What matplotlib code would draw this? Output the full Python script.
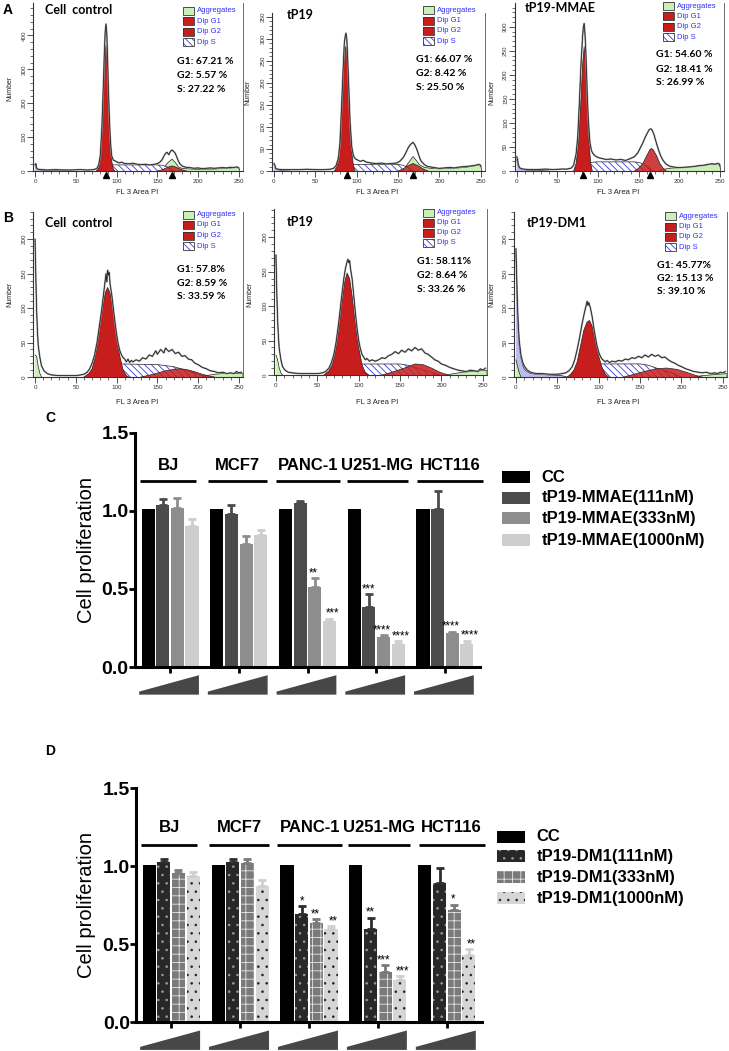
import numpy as np
import matplotlib
matplotlib.use('Agg')
import matplotlib.pyplot as plt
from matplotlib.patches import Rectangle, Polygon
from matplotlib.ticker import MultipleLocator
import matplotlib.transforms as mtransforms

plt.rcParams['font.family'] = ['Liberation Sans', 'DejaVu Sans']
plt.rcParams['hatch.linewidth'] = 0.6

# ===================== DATA: flow cytometry histograms (x = FL3 area PI, y = count) =====================
A1_ENV = [(0,18),(1,22),(2,8),(4,5),(8,4),(15,3),(25,4),(35,3),(45,3),(55,4),(65,3),(72,4),(76,8),(78,18),(80,45),(82,130),(84,270),(85,350),(86,410),(87,434),(88,405),(89,330),(90,240),(91,170),(92,110),(93,70),(94,45),(96,32),(98,30),(100,27),(103,24),(106,26),(110,22),(115,21),(120,23),(125,20),(130,19),(135,20),(140,18),(145,19),(150,22),(153,26),(156,34),(158,44),(160,52),(162,55),(164,48),(166,58),(168,62),(170,58),(172,52),(174,40),(176,28),(178,20),(181,14),(185,11),(190,10),(195,8),(200,9),(205,7),(210,8),(215,9),(220,8),(225,9),(230,10),(235,9),(240,11),(244,10),(247,12),(249,11),(250,8)]
A1_G1 = [(75,0),(78,8),(80,35),(82,110),(84,240),(86,355),(87,372),(88,350),(90,220),(92,100),(94,30),(96,5),(98,0)]
A1_G2 = [(150,0),(155,3),(160,8),(165,13),(168,15),(171,13),(176,8),(181,3),(186,0)]
A1_S = [(84,0),(88,10),(92,17),(96,18),(150,18),(156,17),(162,12),(166,6),(170,0)]
A1_AGG = [(150,0),(158,10),(163,25),(168,35),(172,25),(176,12),(180,8),(190,6),(200,5),(220,6),(235,8),(245,10),(250,10),(251,0)]
A1_DEB = [(0,15),(2,8),(5,4),(10,2),(20,1),(40,0)]
A1_MARKS = [87, 168]
A1_STATS = ['G1: 67.21 %', 'G2: 5.57 %', 'S: 27.22 %']

A2_ENV = [(0,17),(1,14),(2,6),(5,4),(10,3),(20,3),(30,3),(40,4),(50,3),(60,3),(68,4),(72,6),(75,12),(78,30),(80,70),(82,160),(84,250),(85,290),(86,305),(87,313),(88,300),(89,260),(90,210),(91,160),(92,110),(94,55),(96,35),(98,28),(100,26),(104,22),(108,24),(112,20),(118,18),(124,17),(130,18),(136,16),(142,17),(148,18),(152,22),(156,30),(159,40),(162,52),(164,58),(166,62),(168,65),(170,60),(172,52),(174,42),(176,30),(178,22),(182,14),(186,10),(190,9),(196,7),(200,6),(206,7),(212,8),(218,7),(224,9),(230,10),(236,11),(240,12),(244,13),(247,15),(249,14),(250,10)]
A2_G1 = [(73,0),(76,10),(79,50),(82,150),(84,230),(86,275),(87,283),(88,270),(90,200),(92,110),(94,45),(96,12),(98,0)]
A2_G2 = [(150,0),(156,5),(162,12),(168,17),(174,12),(180,5),(186,0)]
A2_S = [(86,0),(90,10),(94,15),(100,15),(150,15),(156,13),(162,8),(168,0)]
A2_AGG = [(152,0),(160,12),(165,25),(168,33),(172,24),(176,14),(182,8),(190,6),(200,5),(215,6),(230,8),(240,11),(247,14),(250,13),(251,0)]
A2_DEB = [(0,14),(2,6),(5,3),(10,1),(20,0)]
A2_MARKS = [88, 168]
A2_STATS = ['G1: 66.07 %', 'G2: 8.42 %', 'S: 25.50 %']

A3_ENV = [(0,30),(1,25),(2,12),(4,6),(8,4),(15,3),(25,3),(35,4),(45,3),(55,4),(62,4),(67,6),(70,12),(73,35),(75,70),(77,140),(79,220),(81,280),(82,300),(83,307),(84,285),(85,250),(86,200),(87,150),(88,110),(90,60),(92,42),(94,36),(96,32),(100,28),(105,26),(110,24),(116,25),(122,23),(128,24),(134,22),(140,26),(145,30),(149,38),(152,48),(155,58),(158,70),(161,80),(163,86),(165,88),(167,84),(169,75),(171,63),(174,46),(177,32),(180,22),(184,14),(188,10),(194,8),(200,7),(208,8),(216,9),(224,11),(230,12),(236,14),(240,15),(244,14),(247,16),(249,15),(250,10)]
A3_G1 = [(70,0),(73,15),(76,60),(79,150),(81,220),(83,259),(85,220),(87,140),(89,60),(91,15),(93,0)]
A3_G2 = [(145,0),(150,6),(155,15),(160,32),(164,45),(166,47),(168,44),(172,32),(176,16),(180,6),(184,0)]
A3_S = [(84,0),(88,12),(92,18),(98,19),(145,19),(152,17),(158,12),(164,5),(168,0)]
A3_AGG = [(175,0),(182,4),(190,6),(200,7),(210,8),(220,10),(230,12),(240,14),(246,15),(250,14),(251,0)]
A3_DEB = [(0,25),(1,15),(3,7),(6,4),(12,2),(25,1),(40,0)]
A3_MARKS = [82, 164]
A3_STATS = ['G1: 54.60 %', 'G2: 18.41 %', 'S: 26.99 %']

B1_ENV = [(0,200),(1,145),(2,95),(3,65),(4,45),(6,28),(8,16),(11,9),(15,5),(20,3),(30,2),(40,2),(50,2),(56,3),(60,4),(64,7),(67,12),(70,20),(73,32),(76,50),(79,75),(82,100),(84,120),(86,140),(87,150),(88,138),(89,155),(90,148),(91,152),(92,135),(94,120),(96,100),(98,80),(100,62),(102,48),(104,38),(106,32),(108,28),(110,26),(112,22),(114,26),(116,21),(118,24),(120,22),(124,25),(128,23),(132,28),(136,26),(140,32),(144,30),(148,38),(150,33),(154,40),(158,35),(160,42),(164,37),(168,40),(172,34),(176,36),(180,30),(184,31),(188,26),(192,25),(196,20),(200,18),(205,14),(210,12),(215,9),(220,8),(225,6),(230,7),(235,5),(240,6),(244,5),(247,8),(250,6),(253,7)]
B1_G1 = [(60,0),(66,5),(70,12),(74,30),(78,60),(82,95),(86,122),(89,130),(92,122),(96,95),(100,60),(104,30),(108,10),(112,2),(115,0)]
B1_G2 = [(130,0),(145,4),(160,9),(175,12),(185,11),(195,8),(205,4),(215,1),(220,0)]
B1_S = [(80,0),(88,10),(96,17),(105,19),(150,18),(170,15),(185,10),(200,4),(210,0)]
B1_AGG = [(200,0),(210,2),(220,4),(230,5),(240,5),(250,5),(255,5),(255,0)]
B1_AGG_LEFT = [(0,32),(2,30),(4,15),(6,5),(8,0)]
B1_STATS = ['G1: 57.8%', 'G2: 8.59 %', 'S: 33.59 %']

B2_ENV = [(0,174),(1,120),(2,80),(3,55),(4,38),(6,22),(8,12),(11,7),(15,4),(20,3),(30,2),(40,2),(50,2),(56,3),(60,5),(64,10),(67,18),(70,30),(73,50),(76,78),(79,110),(82,140),(84,155),(86,165),(87,168),(88,163),(89,166),(90,155),(92,140),(94,115),(96,90),(98,68),(100,50),(102,38),(104,30),(106,26),(108,22),(110,24),(113,20),(116,22),(120,20),(124,22),(128,25),(132,24),(136,28),(140,30),(144,34),(148,31),(152,36),(156,33),(160,38),(164,35),(168,40),(172,36),(176,38),(180,32),(184,30),(188,26),(192,22),(196,20),(200,16),(205,14),(210,11),(215,9),(220,7),(225,6),(230,5),(235,7),(240,6),(244,5),(247,9),(250,7),(253,10)]
B2_G1 = [(58,0),(64,6),(68,15),(72,35),(76,70),(80,110),(83,135),(86,148),(89,140),(92,115),(96,75),(100,40),(104,15),(108,3),(112,0)]
B2_G2 = [(128,0),(140,4),(155,10),(168,16),(178,15),(188,10),(198,4),(208,0)]
B2_S = [(82,0),(90,10),(98,16),(150,16),(160,14),(170,10),(185,5),(198,0)]
B2_AGG = [(205,0),(215,2),(225,4),(235,5),(245,6),(255,7),(255,0)]
B2_AGG_LEFT = [(0,29),(2,22),(4,10),(6,3),(8,0)]
B2_STATS = ['G1: 58.11%', 'G2: 8.64 %', 'S: 33.26 %']

B3_ENV = [(0,186),(1,140),(2,100),(3,72),(4,52),(6,32),(8,22),(10,16),(13,11),(16,8),(20,6),(25,5),(30,5),(40,4),(50,4),(56,5),(60,6),(64,9),(68,15),(71,25),(74,40),(77,58),(80,78),(83,95),(85,105),(86,110),(87,104),(88,108),(90,100),(92,88),(94,72),(96,58),(98,45),(100,36),(102,30),(104,26),(106,24),(108,22),(110,24),(113,21),(116,23),(120,22),(124,24),(128,23),(132,26),(136,25),(140,28),(144,27),(148,30),(152,28),(156,32),(160,29),(164,33),(168,30),(172,32),(176,28),(180,29),(184,25),(188,22),(192,20),(196,17),(200,15),(205,12),(210,10),(215,8),(220,7),(225,6),(230,7),(235,5),(240,6),(244,5),(247,7),(250,6),(253,8)]
B3_G1 = [(62,0),(66,4),(70,10),(74,22),(78,45),(82,68),(86,80),(89,82),(92,74),(96,52),(100,30),(104,14),(108,4),(112,0)]
B3_G2 = [(130,0),(140,3),(155,8),(170,12),(182,13),(195,11),(208,6),(218,2),(225,0)]
B3_S = [(80,0),(88,10),(96,18),(104,19),(150,19),(160,17),(172,12),(188,6),(200,0)]
B3_DEB = [(0,180),(1,130),(2,90),(3,62),(4,45),(6,28),(8,18),(10,12),(13,8),(18,5),(25,4),(40,3),(55,2),(62,0)]
B3_AGG = [(215,0),(225,2),(235,3),(245,4),(255,5),(255,0)]
B3_AGG_LEFT = [(0,25),(2,15),(4,6),(6,0)]
B3_STATS = ['G1: 45.77%', 'G2: 15.13 %', 'S: 39.10 %']

HIST_TITLES = ['Cell  control', 'tP19', 'tP19-MMAE', 'Cell  control', 'tP19', 'tP19-DM1']
HIST_LEGEND = ['Aggregates', 'Dip G1', 'Dip G2', 'Dip S']

# ===================== DATA: proliferation bar charts =====================
GROUPS = ['BJ', 'MCF7', 'PANC-1', 'U251-MG', 'HCT116']
C_LABELS = ['CC', 'tP19-MMAE(111nM)', 'tP19-MMAE(333nM)', 'tP19-MMAE(1000nM)']
C_CC = [1.01, 1.01, 1.01, 1.01, 1.01]
C_111 = [1.04, 0.98, 1.05, 0.386, 1.01]
C_333 = [1.02, 0.79, 0.515, 0.194, 0.22]
C_1000 = [0.90, 0.845, 0.295, 0.145, 0.147]
C_ERR_CC = [0, 0, 0, 0, 0]
C_ERR_111 = [0.035, 0.06, 0.015, 0.08, 0.117]
C_ERR_333 = [0.06, 0.05, 0.055, 0.008, 0.007]
C_ERR_1000 = [0.045, 0.03, 0.015, 0.022, 0.021]
C_STARS_111 = ['', '', '', '***', '']
C_STARS_333 = ['', '', '**', '****', '****']
C_STARS_1000 = ['', '', '***', '****', '****']

D_LABELS = ['CC', 'tP19-DM1(111nM)', 'tP19-DM1(333nM)', 'tP19-DM1(1000nM)']
D_CC = [1.01, 1.01, 1.01, 1.01, 1.01]
D_111 = [1.025, 1.025, 0.695, 0.60, 0.891]
D_333 = [0.957, 1.02, 0.638, 0.323, 0.717]
D_1000 = [0.94, 0.872, 0.595, 0.27, 0.43]
D_ERR_CC = [0, 0, 0, 0, 0]
D_ERR_111 = [0.022, 0.025, 0.049, 0.07, 0.10]
D_ERR_333 = [0.019, 0.027, 0.021, 0.043, 0.038]
D_ERR_1000 = [0.025, 0.042, 0.02, 0.027, 0.04]
D_STARS_111 = ['', '', '*', '**', '']
D_STARS_333 = ['', '', '**', '***', '*']
D_STARS_1000 = ['', '', '**', '***', '**']

Y_TICKS = [0.0, 0.5, 1.0, 1.5]
Y_TICK_LABELS = ['0.0', '0.5', '1.0', '1.5']

# ===================== FIGURE =====================
W, H = 729, 1051
fig = plt.figure(figsize=(W / 100, H / 100), dpi=100)


def px_axes(l, t, r, b):
    return fig.add_axes([l / W, 1 - b / H, (r - l) / W, (b - t) / H])


def fx(x):
    return x / W


def fy(y):
    return 1 - y / H


RED = '#c81d1d'
GREEN = '#c9f0b6'
LAV = '#bcbcf2'
BLUE_H = '#3a3ae0'
HFONT = ['Lato', 'DejaVu Sans']


def xy(pts):
    return [p[0] for p in pts], [p[1] for p in pts]


def fill(ax, pts, fc, z, hatch=None, hc=None, alpha=1.0, lw=0.5):
    xs, ys = xy(pts)
    if hatch:
        ax.fill_between(xs, 0, ys, facecolor=fc, edgecolor=hc, hatch=hatch, linewidth=0, zorder=z)
    else:
        ax.fill_between(xs, 0, ys, facecolor=fc, alpha=alpha, linewidth=0, zorder=z)
    ax.plot(xs, ys, color='#222222', lw=lw, zorder=z + 0.1)


def hist_legend(bx, rows, tx):
    fcs = [GREEN, RED, RED, 'white']
    for lab, fc, y in zip(HIST_LEGEND, fcs, rows):
        hatch = '\\' * 5 if fc == 'white' else None
        fig.add_artist(Rectangle((fx(bx), fy(y + 4)), 10.5 / W, 8 / H, transform=fig.transFigure,
                                 facecolor=fc, edgecolor=BLUE_H if hatch else fc, hatch=hatch, lw=0))
        fig.add_artist(Rectangle((fx(bx), fy(y + 4)), 10.5 / W, 8 / H, transform=fig.transFigure,
                                 facecolor='none', edgecolor='#333333', lw=0.6))
        fig.text(fx(tx), fy(y), lab, color='#2f2fff', fontsize=5.5, va='center', ha='left')


HISTS = [
    dict(box=(33.4, 3.3, 243, 171), ylim=495, ymaj=100, ymin=20, env=A1_ENV, g1=A1_G1, g2=A1_G2, s=A1_S,
         agg=[A1_AGG], deb=A1_DEB, marks=A1_MARKS, stats=A1_STATS, title=HIST_TITLES[0],
         title_xy=(45, 10), stats_xy=(177, [61.7, 75.7, 89.3]), leg=(183, [11, 21.3, 31.7, 42], 197),
         ylab=(10, 88), xlab=(137, 193)),
    dict(box=(272.3, 13.3, 485, 171), ylim=358, ymaj=50, ymin=10, env=A2_ENV, g1=A2_G1, g2=A2_G2, s=A2_S,
         agg=[A2_AGG], deb=A2_DEB, marks=A2_MARKS, stats=A2_STATS, title=HIST_TITLES[1],
         title_xy=(286.7, 15), stats_xy=(415.7, [60, 73.3, 87.3]), leg=(423, [10, 20.7, 31, 41.3], 437),
         ylab=(248, 92), xlab=(377, 193)),
    dict(box=(515.1, 3.3, 724, 171), ylim=349, ymaj=50, ymin=10, env=A3_ENV, g1=A3_G1, g2=A3_G2, s=A3_S,
         agg=[A3_AGG], deb=A3_DEB, marks=A3_MARKS, stats=A3_STATS, title=HIST_TITLES[2],
         title_xy=(525, 8.3), stats_xy=(655.7, [54.3, 69, 82.7]), leg=(663, [6, 16, 26.7, 37.3], 677),
         ylab=(492, 92), xlab=(618, 193)),
    dict(box=(33.4, 211.7, 243, 377), ylim=240, ymaj=50, ymin=10, env=B1_ENV, g1=B1_G1, g2=B1_G2, s=B1_S,
         agg=[B1_AGG, B1_AGG_LEFT], deb=None, marks=[], stats=B1_STATS, title=HIST_TITLES[3],
         title_xy=(45, 223.3), stats_xy=(177, [270, 283.3, 296.7]), leg=(183, [215, 225, 235.7, 246], 197),
         ylab=(10, 294), xlab=(137, 403)),
    dict(box=(274.3, 209, 487, 375), ylim=241, ymaj=50, ymin=10, env=B2_ENV, g1=B2_G1, g2=B2_G2, s=B2_S,
         agg=[B2_AGG, B2_AGG_LEFT], deb=None, marks=[], stats=B2_STATS, title=HIST_TITLES[4],
         title_xy=(286.7, 221.7), stats_xy=(416.7, [261.7, 276, 290]), leg=(423, [212.7, 222.7, 232.7, 242.7], 437),
         ylab=(250, 294), xlab=(377, 403)),
    dict(box=(514.3, 211.7, 727, 377), ylim=240, ymaj=50, ymin=10, env=B3_ENV, g1=B3_G1, g2=B3_G2, s=B3_S,
         agg=[B3_AGG, B3_AGG_LEFT], deb=B3_DEB, marks=[], stats=B3_STATS, title=HIST_TITLES[5],
         title_xy=(526.7, 223.3), stats_xy=(656.7, [265, 278.3, 291.7]), leg=(665, [216, 226.7, 236.7, 247.3], 679),
         ylab=(492, 294), xlab=(618, 403)),
]

for h in HISTS:
    l, t, r, b = h['box']
    ax = px_axes(l, t, r, b)
    ax.set_xlim(-2, 255)
    ax.set_ylim(0, h['ylim'])
    ax.spines['top'].set_visible(False)
    for sp in ['left', 'bottom']:
        ax.spines[sp].set_linewidth(0.8)
        ax.spines[sp].set_color('#333333')
    ax.spines['right'].set_linewidth(0.6)
    ax.spines['right'].set_color('#555555')
    ax.xaxis.set_major_locator(MultipleLocator(50))
    ax.xaxis.set_minor_locator(MultipleLocator(10))
    ax.yaxis.set_major_locator(MultipleLocator(h['ymaj']))
    ax.yaxis.set_minor_locator(MultipleLocator(h['ymin']))
    ax.tick_params(which='major', length=4, width=0.6, labelsize=4.5, pad=2, colors='#333333')
    ax.tick_params(which='minor', length=2.2, width=0.5, colors='#333333')
    ax.tick_params(axis='y', labelrotation=90, pad=1)
    for tl in ax.get_yticklabels():
        tl.set_va('center')
    # components
    if h['deb'] is not None:
        fill(ax, h['deb'], LAV, 1)
    for ag in h['agg']:
        fill(ax, ag, GREEN, 1.5)
    fill(ax, h['s'], 'white', 2, hatch='\\' * 5, hc=BLUE_H)
    fill(ax, h['g2'], RED, 2.5, alpha=0.85)
    fill(ax, h['g1'], RED, 3)
    ex, ey = xy(h['env'])
    ax.plot(ex, ey, color='#a0a0a0', lw=1.3, zorder=4, solid_joinstyle='round')
    ax.plot(ex, ey, color='#111111', lw=0.5, zorder=4.2)
    if h['marks']:
        off = 3.5 * h['ylim'] / (b - t)
        ax.plot(h['marks'], [-off] * len(h['marks']), linestyle='none', marker='^', color='black',
                markersize=4.2, clip_on=False, zorder=6)
    # texts
    fig.text(fx(h['title_xy'][0]), fy(h['title_xy'][1]), h['title'], family=HFONT, weight='bold',
             fontsize=9, va='center', ha='left')
    sx, sys_ = h['stats_xy']
    for s, yy in zip(h['stats'], sys_):
        fig.text(fx(sx), fy(yy), s, family=HFONT, weight='bold', fontsize=7.5, va='center', ha='left')
    bx, rows, tx = h['leg']
    hist_legend(bx, rows, tx)
    fig.text(fx(h['ylab'][0]), fy(h['ylab'][1]), 'Number', rotation=90, fontsize=5, va='center', ha='center',
             color='#222222')
    fig.text(fx(h['xlab'][0]), fy(h['xlab'][1]), 'FL 3 Area PI', fontsize=5.5, va='center', ha='center',
             color='#222222')

# panel letters
for lab, (x, y) in zip(['A', 'B', 'C', 'D'], [(3, 10), (3, 218), (45, 418), (45, 751)]):
    fig.text(fx(x), fy(y), lab, fontsize=10, weight='bold', va='center', ha='left')

# ===================== BAR PANELS =====================
OFFS = np.array([-1.5, -0.5, 0.5, 1.5]) * 0.213
BAR_W = 0.19
LINE_SPANS = [(-0.436, 0.378), (-0.445, 0.416), (-0.46, 0.48), (-0.43, 0.46), (-0.41, 0.55)]
STAR_NUDGE = [0.0, 0.0, -0.02, 0.04]

C_STYLES = [dict(fc='#000000', ec='#000000', hatch=None),
            dict(fc='#4b4b4b', ec='#4b4b4b', hatch=None),
            dict(fc='#8d8d8d', ec='#8d8d8d', hatch=None),
            dict(fc='#cecece', ec='#cecece', hatch=None)]
D_STYLES = [dict(fc='#000000', ec='#000000', hatch=None),
            dict(fc='#282828', ec='#9a9a9a', hatch='..'),
            dict(fc='#7a7a7a', ec='#e6e6e6', hatch='++'),
            dict(fc='#d6d6d6', ec='#222222', hatch='..')]
D_ERRC = ['#000000', '#2e2e2e', '#7a7a7a', '#cfcfcf']


def bar_panel(box, means, errs, stars, styles, errc, label_y, line_y, leg, legend_labels, ylab_xy):
    l, t, r, b = box
    ax = px_axes(l, t, r, b)
    ax.set_xlim(-0.51, 4.51)
    ax.set_ylim(0, 1.5)
    for sp in ['top', 'right']:
        ax.spines[sp].set_visible(False)
    for sp in ['left', 'bottom']:
        ax.spines[sp].set_linewidth(2.2)
    ax.set_yticks(Y_TICKS)
    ax.set_yticklabels(Y_TICK_LABELS)
    ax.set_xticks(np.arange(len(GROUPS)))
    ax.set_xticklabels([])
    ax.tick_params(axis='y', length=4, width=2, labelsize=14, pad=0.5)
    ax.tick_params(axis='x', length=4, width=2)
    for tl in ax.get_yticklabels():
        tl.set_fontweight('bold')
    x = np.arange(len(GROUPS))
    for k in range(4):
        st = styles[k]
        xs = x + OFFS[k]
        ax.bar(xs, means[k], width=BAR_W, color=st['fc'], edgecolor=st['ec'], hatch=st['hatch'],
               linewidth=0, zorder=2)
        for xi, m, e, s in zip(xs, means[k], errs[k], stars[k]):
            if e > 0:
                ax.errorbar([xi], [m], yerr=[[0], [e]], fmt='none', ecolor=errc[k], elinewidth=2,
                            capsize=2.6, capthick=2, zorder=2.5)
            if s:
                ax.text(xi + STAR_NUDGE[k], m + e + 0.012, s, ha='center', va='baseline', fontsize=8.3,
                        zorder=5)
    # group labels + lines
    for i, (g, (a0, a1)) in enumerate(zip(GROUPS, LINE_SPANS)):
        ax.plot([i + a0, i + a1], [line_y, line_y], color='black', lw=2, clip_on=False, solid_capstyle='butt')
        ax.text(i + (a0 + a1) / 2, label_y, g, ha='center', va='center', fontsize=12, weight='bold')
    # wedges
    trans = mtransforms.blended_transform_factory(ax.transData, ax.transAxes)
    for i in range(len(GROUPS)):
        poly = Polygon([(i - 0.45, -0.118), (i - 0.45, -0.105), (i + 0.42, -0.035), (i + 0.42, -0.118)],
                       closed=True, transform=trans, facecolor='#474747', edgecolor='none', clip_on=False)
        ax.add_patch(poly)
    fig.text(fx(ylab_xy[0]), fy(ylab_xy[1]), 'Cell proliferation', rotation=90, fontsize=14.5,
             va='center', ha='center')
    # legend
    bx0, bx1, rows, tx = leg
    for k, (lab, y) in enumerate(zip(legend_labels, rows)):
        st = styles[k]
        fig.add_artist(Rectangle((fx(bx0), fy(y + 6)), (bx1 - bx0) / W, 12 / H, transform=fig.transFigure,
                                 facecolor=st['fc'], edgecolor=st['ec'], hatch=st['hatch'], lw=0))
        fig.text(fx(tx), fy(y), lab, fontsize=12, weight='bold', va='center', ha='left')
    return ax


bar_panel((135, 432.7, 480, 667), [C_CC, C_111, C_333, C_1000],
          [C_ERR_CC, C_ERR_111, C_ERR_333, C_ERR_1000],
          [[''] * 5, C_STARS_111, C_STARS_333, C_STARS_1000], C_STYLES,
          [s['fc'] for s in C_STYLES], 1.293, 1.193,
          (502.3, 530, [477.3, 497.7, 518.3, 540], 541.7), C_LABELS, (86, 550))

bar_panel((136, 788.3, 482, 1022.3), [D_CC, D_111, D_333, D_1000],
          [D_ERR_CC, D_ERR_111, D_ERR_333, D_ERR_1000],
          [[''] * 5, D_STARS_111, D_STARS_333, D_STARS_1000], D_STYLES,
          D_ERRC, 1.247, 1.137,
          (496.7, 525, [836.7, 856, 877.3, 898.3], 536.7), D_LABELS, (86.7, 905))

fig.savefig('out.png', dpi=100)
